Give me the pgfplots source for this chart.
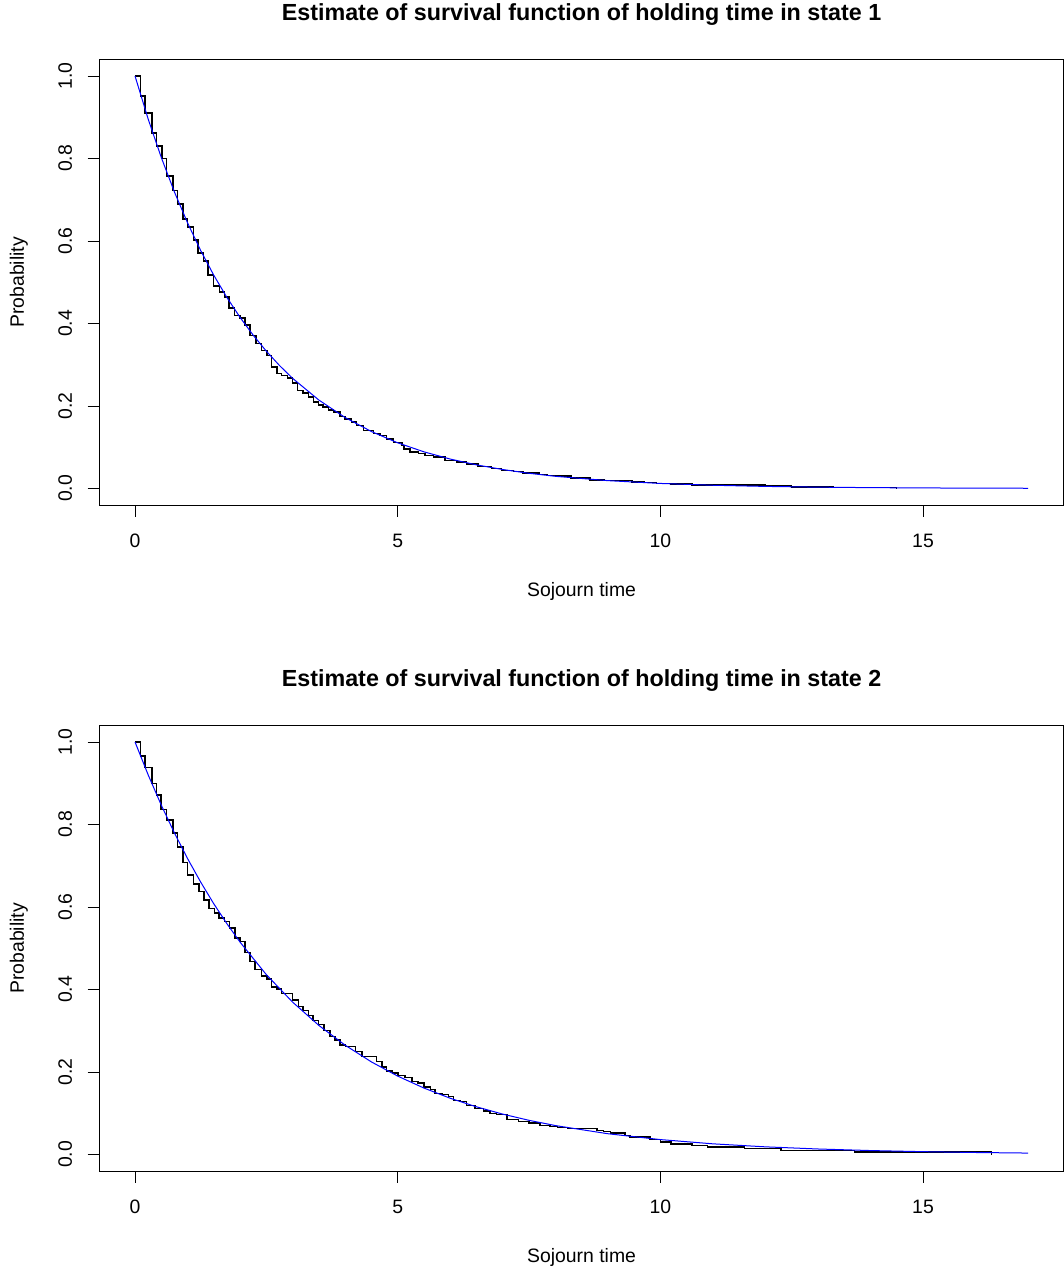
\documentclass[border=0pt]{standalone}
\usepackage{fontspec}
\setmainfont{Liberation Sans}
\usepackage{pgfplots}
\pgfplotsset{compat=1.18}

\newcommand\basefont{\fontsize{9.7}{11.6}\selectfont}

\pgfplotsset{
  rplot/.style={
    scale only axis,
    width=482.25pt, height=222.75pt,
    xmin=-0.68, xmax=17.68, ymin=-0.04, ymax=1.04,
    axis line style={black, line width=0.5pt},
    xtick={0,5,10,15}, xticklabels={0,5,10,15},
    ytick={0,0.2,0.4,0.6,0.8,1}, yticklabels={0.0,0.2,0.4,0.6,0.8,1.0},
    xtick pos=left, ytick pos=left,
    tick align=outside, major tick length=5.85pt,
    tick style={black, line width=0.5pt},
    every tick label/.append style={font=\basefont},
    xticklabel style={anchor=base, yshift=-15.3pt},
    yticklabel style={xshift=-7.8pt, rotate=90, anchor=base},
    xlabel={Sojourn time}, ylabel={Probability},
    xlabel style={font=\basefont, at={(axis description cs:0.5,0)}, anchor=base, yshift=-45.9pt},
    ylabel style={font=\basefont, at={(axis description cs:-0.0781,0.5)}, anchor=base},
    title style={font=\fontsize{11.65}{14}\selectfont\bfseries, at={(axis description cs:0.5,1)}, anchor=base, yshift=13.3pt},
  },
  km/.style={const plot, black, line width=0.75pt, mark=none},
  fit/.style={blue, line width=0.5pt, mark=none},
}

\begin{document}
\begin{tikzpicture}
\useasboundingbox (0,0) rectangle (532pt,-635.5pt);

\begin{axis}[rplot, at={(49.65pt,-29.75pt)}, anchor=north west,
  title={Estimate of survival function of holding time in state 1}]
\addplot[km] coordinates {
(0,1) (0.10,0.952) (0.19,0.910) (0.32,0.862) (0.41,0.830) (0.51,0.800)
(0.60,0.757) (0.72,0.723) (0.81,0.690) (0.91,0.653) (1.00,0.634) (1.11,0.602)
(1.20,0.571) (1.30,0.551) (1.39,0.517) (1.49,0.491) (1.61,0.476) (1.70,0.464)
(1.79,0.438) (1.89,0.420) (2.00,0.413) (2.09,0.396) (2.19,0.371) (2.30,0.352)
(2.41,0.335) (2.51,0.323) (2.60,0.295) (2.70,0.279) (2.79,0.274) (2.90,0.268)
(3.00,0.256) (3.09,0.238) (3.20,0.231) (3.30,0.222) (3.40,0.210) (3.49,0.203)
(3.58,0.197) (3.68,0.190) (3.78,0.185) (3.90,0.175) (4.00,0.169) (4.12,0.161)
(4.22,0.153) (4.35,0.141) (4.54,0.133) (4.66,0.129) (4.79,0.120) (4.92,0.112)
(5.08,0.104) (5.12,0.096) (5.23,0.088) (5.40,0.085) (5.52,0.080) (5.68,0.076)
(5.90,0.068) (6.12,0.064) (6.31,0.060) (6.53,0.053) (6.79,0.048) (6.98,0.044)
(7.20,0.041) (7.39,0.038) (7.70,0.034) (7.85,0.032) (8.00,0.030) (8.30,0.025)
(8.66,0.021) (8.94,0.019) (9.46,0.016) (9.70,0.014) (9.93,0.012) (10.20,0.011)
(10.60,0.009) (12.00,0.006) (12.50,0.004) (13.30,0.002) (14.50,0)
};
\addplot[fit] coordinates {
(0,1) (0.25,0.8958) (0.5,0.8025) (0.75,0.7189) (1,0.6440) (1.25,0.5769)
(1.5,0.5169) (1.75,0.4630) (2,0.4148) (2.25,0.3716) (2.5,0.3329) (2.75,0.2982)
(3,0.2671) (3.5,0.2144) (4,0.1720) (4.5,0.1381) (5,0.1108) (5.5,0.0889)
(6,0.0714) (6.5,0.0573) (7,0.0460) (7.5,0.0369) (8,0.0296) (9,0.0191)
(10,0.0123) (11,0.0079) (12,0.0051) (13,0.0033) (14,0.0021) (15,0.0014)
(16,0.0009) (17,0.0006)
};
\end{axis}

\begin{axis}[rplot, at={(49.65pt,-362.75pt)}, anchor=north west,
  title={Estimate of survival function of holding time in state 2}]
\addplot[km] coordinates {
(0,1) (0.10,0.966) (0.19,0.938) (0.32,0.900) (0.41,0.872) (0.49,0.837)
(0.60,0.811) (0.72,0.779) (0.81,0.746) (0.91,0.708) (1.00,0.678) (1.11,0.656)
(1.22,0.638) (1.31,0.617) (1.41,0.597) (1.51,0.585) (1.60,0.573) (1.70,0.565)
(1.80,0.549) (1.90,0.525) (2.00,0.516) (2.09,0.490) (2.19,0.468) (2.28,0.448)
(2.41,0.433) (2.51,0.425) (2.60,0.406) (2.70,0.401) (2.79,0.390) (3.00,0.374)
(3.11,0.359) (3.20,0.349) (3.30,0.337) (3.39,0.325) (3.49,0.315) (3.60,0.301)
(3.71,0.286) (3.81,0.278) (3.90,0.266) (4.01,0.262) (4.20,0.250) (4.32,0.238)
(4.60,0.226) (4.70,0.212) (4.79,0.203) (4.90,0.198) (5.01,0.191) (5.14,0.187)
(5.27,0.177) (5.39,0.173) (5.50,0.164) (5.62,0.158) (5.71,0.148) (5.84,0.145)
(5.97,0.141) (6.06,0.131) (6.19,0.128) (6.31,0.119) (6.47,0.111) (6.63,0.105)
(6.76,0.100) (6.88,0.097) (7.08,0.085) (7.30,0.080) (7.50,0.077) (7.71,0.070)
(7.90,0.068) (8.04,0.066) (8.23,0.063) (8.79,0.058) (8.92,0.056) (9.05,0.052)
(9.33,0.046) (9.42,0.042) (9.80,0.036) (10.00,0.030) (10.20,0.026) (10.60,0.022)
(10.90,0.018) (11.60,0.014) (12.30,0.010) (13.70,0.006) (16.30,0)
};
\addplot[fit] coordinates {
(0,1) (0.25,0.9204) (0.5,0.8470) (0.75,0.7796) (1,0.7175) (1.25,0.6604)
(1.5,0.6077) (1.75,0.5594) (2,0.5148) (2.5,0.4360) (3,0.3694) (3.5,0.3129)
(4,0.2650) (4.5,0.2245) (5,0.1901) (5.5,0.1611) (6,0.1364) (6.5,0.1156)
(7,0.0979) (7.5,0.0829) (8,0.0702) (9,0.0504) (10,0.0362) (11,0.0259)
(12,0.0186) (13,0.0134) (14,0.0096) (15,0.0069) (16,0.0049) (17,0.0035)
};
\end{axis}
\end{tikzpicture}
\end{document}
